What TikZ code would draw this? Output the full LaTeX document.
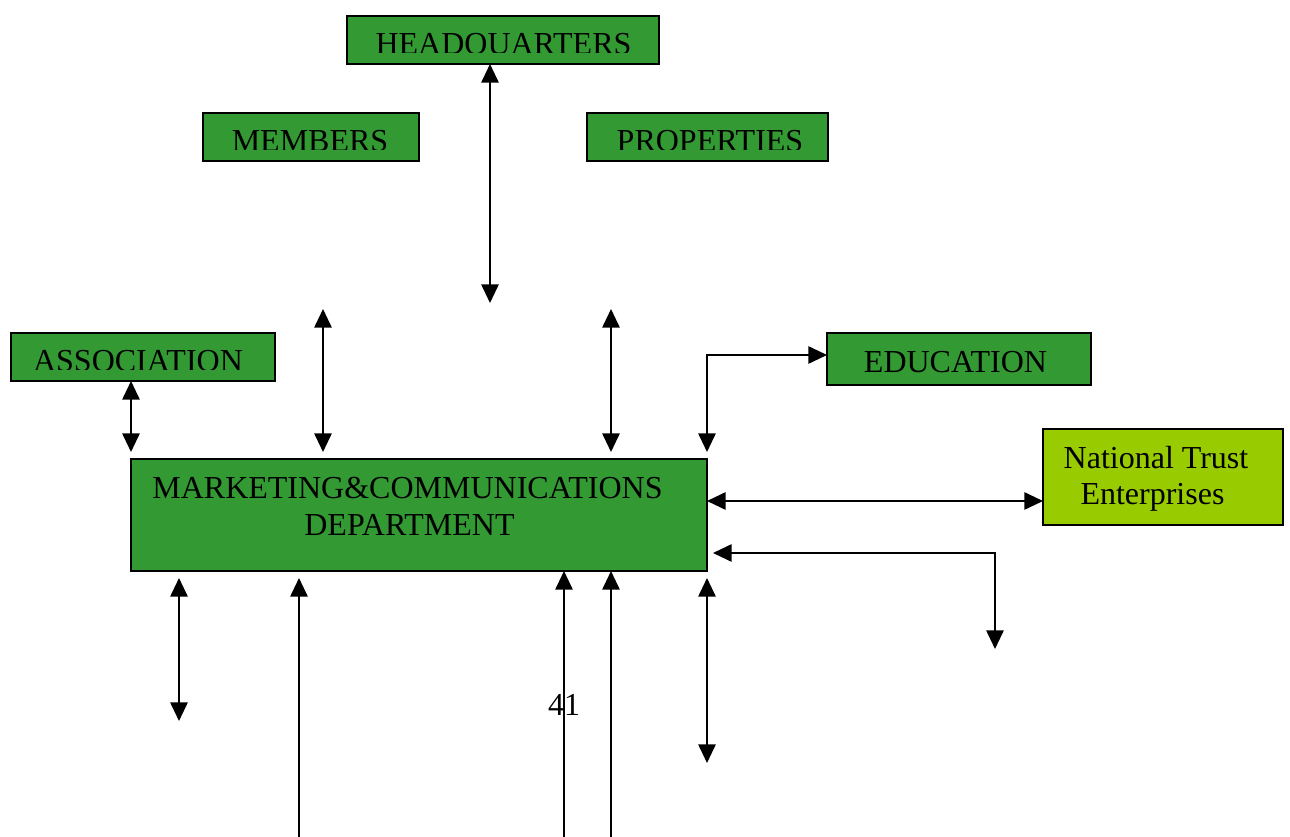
\documentclass[tikz,border=0pt]{standalone}
\usepackage{fontspec}
\setmainfont{Liberation Serif}
\usetikzlibrary{arrows.meta}
\definecolor{boxgreen}{HTML}{339933}
\definecolor{ntgreen}{HTML}{99CC00}
\begin{document}
\begin{tikzpicture}[x=0.75pt,y=-0.75pt,
  box/.style={draw=black,line width=1.1pt,fill=boxgreen,inner sep=0pt,outer sep=0pt,anchor=north west},
  lbl/.style={font=\fontsize{24}{28}\selectfont,inner sep=0pt,anchor=base},
  conn/.style={line width=1.4pt,{Triangle[length=14pt,width=13pt]}-{Triangle[length=14pt,width=13pt]}},
  one/.style={line width=1.4pt,-{Triangle[length=14pt,width=13pt]}}]
\useasboundingbox (0,0) rectangle (1290,837);
% boxes
\node[box,minimum width=234pt,minimum height=36pt] (hq) at (347,16) {};
\node[box,minimum width=162pt,minimum height=36pt] (mem) at (203,113) {};
\node[box,minimum width=180.75pt,minimum height=36pt] (prop) at (587,113) {};
\node[box,minimum width=198pt,minimum height=36pt] (assoc) at (11,333) {};
\node[box,minimum width=198pt,minimum height=39pt] (edu) at (827,333) {};
\node[box,fill=ntgreen,minimum width=180pt,minimum height=72pt] (nt) at (1043,429) {};
\node[box,minimum width=432pt,minimum height=84pt] (mkt) at (131,459) {};
% clipped labels
\begin{scope}
  \clip (347,16) rectangle (659,53);
  \node[lbl] (hqt) at (503.5,55) {HEADQUARTERS};
\end{scope}
\begin{scope}
  \clip (203,113) rectangle (419,150);
  \node[lbl] (memt) at (310,152) {MEMBERS};
\end{scope}
\begin{scope}
  \clip (587,113) rectangle (828,150);
  \node[lbl] (propt) at (710,152) {PROPERTIES};
\end{scope}
\begin{scope}
  \clip (11,333) rectangle (275,370);
  \node[lbl] (assoct) at (138,372) {ASSOCIATION};
\end{scope}
\node[lbl] (edut) at (955.5,373) {EDUCATION};
\node[lbl] (ntt1) at (1156,469) {National Trust};
\node[lbl] (ntt2) at (1152.5,505) {Enterprises};
\node[lbl] (mktt1) at (407.5,499) {MARKETING\&COMMUNICATIONS};
\node[lbl] (mktt2) at (409.5,536) {DEPARTMENT};
\node[lbl] (page) at (564,716) {41};
% connector ends
\coordinate (hqe) at (490,303);
\coordinate (m1) at (323,309);
\coordinate (m2) at (323,452);
\coordinate (p1) at (611,309);
\coordinate (p2) at (611,452);
\coordinate (a2) at (131,452);
\coordinate (e1) at (707,452);
\coordinate (n1) at (707,501);
\coordinate (n2) at (1043,501);
\coordinate (l1) at (713,553);
\coordinate (l2) at (995,649);
\coordinate (b1) at (179,578);
\coordinate (b2) at (179,721);
\coordinate (c1) at (299,578);
\coordinate (c2) at (299,840);
\coordinate (d2) at (564,840);
\coordinate (f2) at (611,840);
\coordinate (g1) at (707,578);
\coordinate (g2) at (707,763);
% connectors
\draw[conn] (hqe |- hq.south) -- (hqe);
\draw[conn] (m1) -- (m2);
\draw[conn] (p1) -- (p2);
\draw[conn] (a2 |- assoc.south) -- (a2);
\draw[conn] (e1) |- ([yshift=3pt]edu.west);
\draw[conn] (n1) -- (n2);
\draw[conn] (l1) -| (l2);
\draw[conn] (b1) -- (b2);
\draw[one] (c2) -- (c1);
\draw[one] (d2) -- (d2 |- mkt.south);
\draw[one] (f2) -- (f2 |- mkt.south);
\draw[conn] (g1) -- (g2);
\end{tikzpicture}
\end{document}
